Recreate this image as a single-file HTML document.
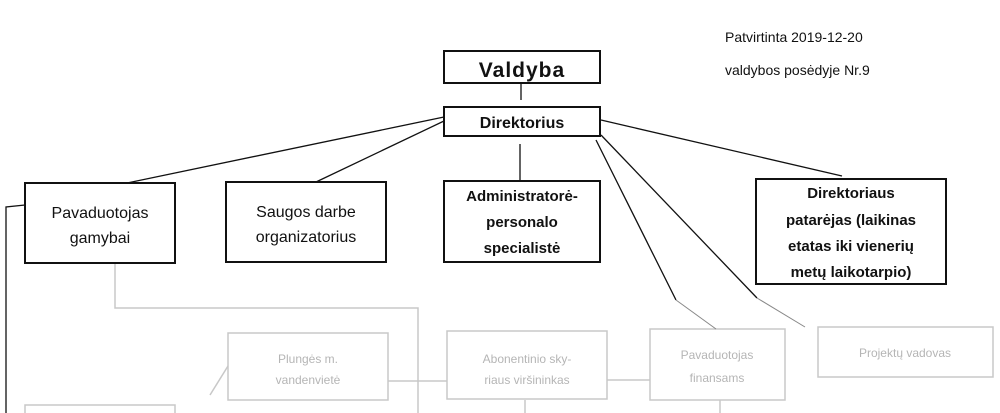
<!DOCTYPE html>
<html><head><meta charset="utf-8"><style>
body{margin:0;background:#fff;}
svg{display:block}
.t{font-family:"Liberation Sans",Arial,sans-serif;fill:#111;text-anchor:middle}
.b{font-weight:bold}
.g{font-family:"Liberation Sans",Arial,sans-serif;fill:#b5b5b5;text-anchor:middle;font-size:12px}
</style></head><body>
<svg width="1000" height="413" viewBox="0 0 1000 413" xmlns="http://www.w3.org/2000/svg">
<rect width="1000" height="413" fill="#fff"/>
<g stroke="#c8c8c8" stroke-width="1.5" fill="#fff">
<polyline points="115,263 115,308 418,308 418,413" fill="none"/>
<rect x="228" y="333" width="160" height="67"/>
<rect x="447" y="331" width="160" height="68"/>
<rect x="650" y="329" width="135" height="71"/>
<rect x="818" y="327" width="175" height="50"/>
<line x1="388" y1="381" x2="447" y2="381"/>
<line x1="607" y1="380" x2="650" y2="380"/>
<line x1="210" y1="395" x2="228" y2="366"/>
<line x1="525" y1="400" x2="525" y2="413"/>
<line x1="720" y1="400" x2="720" y2="413"/>
<rect x="25" y="405" width="150" height="20"/>
</g>
<text class="g" x="308" y="363">Plungės m.</text>
<text class="g" x="308" y="384">vandenvietė</text>
<text class="g" x="527" y="363">Abonentinio sky-</text>
<text class="g" x="527" y="384">riaus viršininkas</text>
<text class="g" x="717" y="359">Pavaduotojas</text>
<text class="g" x="717" y="382">finansams</text>
<text class="g" x="905" y="357">Projektų vadovas</text>
<g stroke="#111" stroke-width="1.3" fill="none">
<line x1="521" y1="84" x2="521" y2="100"/>
<line x1="444" y1="117" x2="127" y2="183"/>
<line x1="444" y1="121" x2="316" y2="182"/>
<line x1="520" y1="144" x2="520" y2="181"/>
<line x1="601" y1="120" x2="842" y2="176"/>
<line x1="596" y1="140" x2="676" y2="300"/>
<line x1="601" y1="135" x2="757" y2="298"/>
<polyline points="25,205 6,207 6,413"/>
</g>
<g stroke="#888" stroke-width="1" fill="none">
<line x1="676" y1="300" x2="716" y2="329"/>
<line x1="757" y1="298" x2="805" y2="327"/>
</g>
<g stroke="#111" stroke-width="2" fill="#fff">
<rect x="444" y="51" width="156" height="32"/>
<rect x="444" y="107" width="156" height="29"/>
<rect x="25" y="183" width="150" height="80"/>
<rect x="226" y="182" width="160" height="80"/>
<rect x="444" y="181" width="156" height="81"/>
<rect x="756" y="179" width="190" height="105"/>
</g>
<text class="t b" x="522" y="77" font-size="21" letter-spacing="1">Valdyba</text>
<text class="t b" x="522" y="128" font-size="16">Direktorius</text>
<text class="t" x="100" y="218" font-size="16">Pavaduotojas</text>
<text class="t" x="100" y="243" font-size="16">gamybai</text>
<text class="t" x="306" y="217" font-size="16">Saugos darbe</text>
<text class="t" x="306" y="242" font-size="16">organizatorius</text>
<text class="t b" x="522" y="201" font-size="15">Administratorė-</text>
<text class="t b" x="522" y="227" font-size="15">personalo</text>
<text class="t b" x="522" y="253" font-size="15">specialistė</text>
<text class="t b" x="851" y="198" font-size="15">Direktoriaus</text>
<text class="t b" x="851" y="225" font-size="15">patarėjas (laikinas</text>
<text class="t b" x="851" y="251" font-size="15">etatas iki vienerių</text>
<text class="t b" x="851" y="277" font-size="15">metų laikotarpio)</text>
<text x="725" y="42" font-family="Liberation Sans,Arial,sans-serif" font-size="14" fill="#111">Patvirtinta 2019-12-20</text>
<text x="725" y="75" font-family="Liberation Sans,Arial,sans-serif" font-size="14" fill="#111">valdybos posėdyje Nr.9</text>
</svg>
</body></html>
